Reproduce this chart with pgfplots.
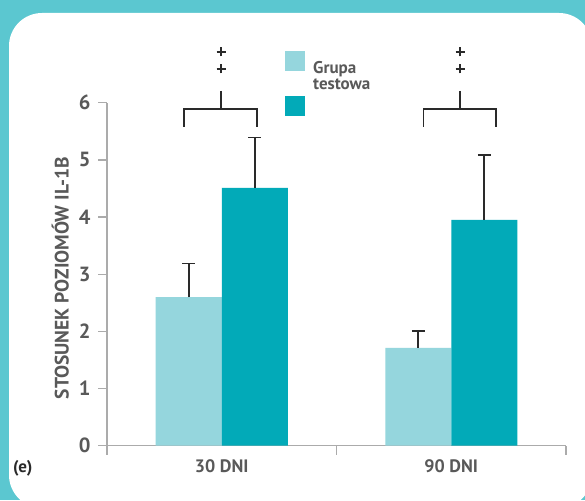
\documentclass[border=0pt]{standalone}
\usepackage{pgfplots}
\pgfplotsset{compat=1.18}
\usepackage{fontspec}
\setmainfont{PT Sans}
\definecolor{bgteal}{HTML}{5BC7D0}
\definecolor{lightbar}{HTML}{95D6DD}
\definecolor{darkbar}{HTML}{02AAB8}
\definecolor{txtgray}{HTML}{595959}
\definecolor{axgray}{HTML}{ABABAB}
\definecolor{inkdark}{HTML}{2A2A2A}
\begin{document}
\begin{tikzpicture}[x=1pt,y=1pt]
\useasboundingbox (0,0) rectangle (585,500);
\begin{scope}
\clip (0,0) rectangle (585,500);
\fill[bgteal] (0,0) rectangle (585,500);
\fill[white, rounded corners=33pt] (9,-8) rectangle (592,487);
\end{scope}
\begin{axis}[
  at={(107pt,54.3pt)}, anchor=south west,
  scale only axis, width=459pt, height=343pt,
  xmin=-0.5, xmax=1.5, ymin=0, ymax=6,
  axis x line*=bottom, axis y line*=left,
  axis line style={axgray, line width=1.3pt},
  ytick={0,1,2,3,4,5,6},
  yticklabel={\pgfmathprintnumber{\tick}},
  xtick={-0.5,0.5,1.5}, xticklabels={},
  extra x ticks={0,1}, extra x tick labels={30 DNI,90 DNI},
  extra x tick style={major tick length=0pt, tick label style={yshift=-10pt}},
  tick align=outside, major tick length=9pt,
  tick style={axgray, line width=1.3pt},
  tick label style={font=\fontsize{18}{20}\selectfont\bfseries, text=txtgray},
  /pgf/number format/assume math mode=true,
  yticklabel style={xshift=-4pt, font=\fontsize{20.5}{22}\selectfont\bfseries},
  ylabel={STOSUNEK POZIOMÓW IL-1B},
  ylabel style={at={(axis description cs:-0.102,0.489)}, anchor=center,
    font=\fontsize{19.5}{20}\selectfont\bfseries, text=txtgray},
  clip=false,
]
\addplot[ybar, bar width=0.2876, bar shift=0pt, fill=lightbar, draw=none,
  error bars/.cd, y dir=plus, y explicit,
  error bar style={inkdark, line width=1.6pt},
  error mark options={rotate=90, inkdark, line width=1.6pt, mark size=6.5pt}]
  coordinates {(-0.1438,2.60) +- (0,0.59) (0.8562,1.71) +- (0,0.30)};
\addplot[ybar, bar width=0.2876, bar shift=0pt, fill=darkbar, draw=none,
  error bars/.cd, y dir=plus, y explicit,
  error bar style={inkdark, line width=1.6pt},
  error mark options={rotate=90, inkdark, line width=1.6pt, mark size=6.5pt}]
  coordinates {(0.1438,4.51) +- (0,0.88) (1.1438,3.95) +- (0,1.13)};
\end{axis}
% legend
\fill[lightbar] (285,429) rectangle (305,449);
\fill[darkbar] (285,384) rectangle (305,404);
\node[anchor=base west, inner sep=0pt, text=txtgray,
  font=\fontsize{17}{17}\selectfont\bfseries] at (313,426.5) {Grupa};
\node[anchor=base west, inner sep=0pt, text=txtgray,
  font=\fontsize{17}{17}\selectfont\bfseries] at (313,410.5) {testowa};
% significance brackets
\begin{scope}[inkdark, line width=1.6pt]
\draw (221,409) -- (221,391);
\draw (184,373) -- (184,391) -- (257,391) -- (257,373);
\draw (460,409) -- (460,391);
\draw (423.5,373) -- (423.5,391) -- (496,391) -- (496,373);
\foreach \xx in {221,460}{
  \foreach \yy in {448,431}{
    \draw (\xx-4.5,\yy) -- (\xx+4.5,\yy);
    \draw (\xx,\yy-4.5) -- (\xx,\yy+4.5);
  }
}
\end{scope}
\node[anchor=west, inner sep=0pt, text=inkdark,
  font=\fontsize{17}{18}\selectfont\bfseries] at (13,32) {(e)};
\end{tikzpicture}
\end{document}
